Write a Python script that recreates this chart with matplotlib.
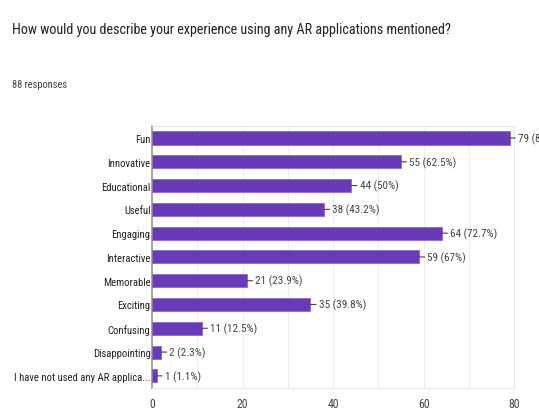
import matplotlib
matplotlib.use("Agg")
from matplotlib import pyplot as plt

categories = ["Fun", "Innovative", "Educational", "Useful", "Engaging", "Interactive",
              "Memorable", "Exciting", "Confusing", "Disappointing",
              "I have not used any AR applica..."]
counts = [79, 55, 44, 38, 64, 59, 21, 35, 11, 2, 1]
total = 88
x_ticks = [0, 20, 40, 60, 80]

plt.rcParams["font.family"] = ["Roboto Condensed", "DejaVu Sans"]

fig = plt.figure(figsize=(5.39, 4.14), dpi=100)
ax = fig.add_axes([0.282, 0.061, 0.672, 0.632])

y = list(range(len(categories)))
ax.barh(y, counts, height=0.55, color="#673ab7", edgecolor="#8e6bd0", linewidth=0.6, zorder=3)
ax.set_ylim(len(categories) - 0.5, -0.5)
ax.set_xlim(0, 80)
ax.set_yticks(y)
ax.set_yticklabels(categories, fontsize=7.7, color="#222222")
ax.set_xticks(x_ticks)
ax.set_xticks(range(0, 81, 10), minor=True)
ax.tick_params(axis="x", which="both", length=0, pad=7, labelsize=8.5, labelcolor="#444444")
ax.tick_params(axis="y", length=0, pad=1)
ax.grid(axis="x", which="both", color="#eeeeee", linewidth=0.8, zorder=0)
for s in ["top", "right", "bottom"]:
    ax.spines[s].set_color("#e6e6e6")
    ax.spines[s].set_linewidth(0.8)
ax.spines["left"].set_color("#999999")
ax.spines["left"].set_linewidth(1.2)

for yi, c in zip(y, counts):
    pct = round(c / total * 100, 1)
    pct_s = ("%.1f" % pct).rstrip("0").rstrip(".")
    ax.annotate("%d (%s%%)" % (c, pct_s), xy=(c, yi), xytext=(6, 0), textcoords="offset points",
                va="center", ha="left", fontsize=8, color="#444444", annotation_clip=False,
                arrowprops=dict(arrowstyle="-", color="#444444", lw=0.8, shrinkA=0, shrinkB=0))

fig.text(0.022, 0.928, "How would you describe your experience using any AR applications mentioned?",
         fontsize=10.2, color="#222222", va="center")
fig.text(0.022, 0.795, "88 responses", fontsize=7.5, color="#444444", va="center")

fig.savefig("out.png", dpi=100)
